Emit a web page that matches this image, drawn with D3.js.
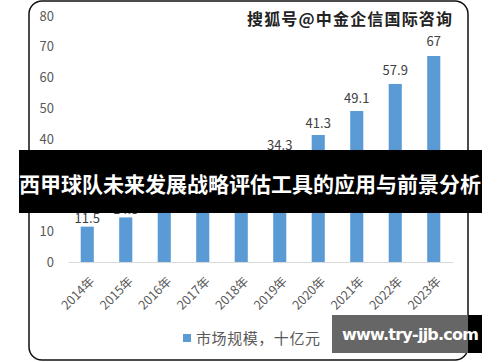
<!DOCTYPE html>
<html><head><meta charset="utf-8">
<script src="https://cdn.jsdelivr.net/npm/d3@7"></script>
<style>body{margin:0;background:#fff}svg{display:block}</style>
</head><body>
<svg id="c" width="500" height="362"></svg>
<script>
const years = ["2014年","2015年","2016年","2017年","2018年","2019年","2020年","2021年","2022年","2023年"];
const values = [11.5,14.5,18.1,22.6,28,34.3,41.3,49.1,57.9,67];
const valueLabels = ["11.5","14.5","18.1","22.6","28","34.3","41.3","49.1","57.9","67"];
const yTicks = [0,10,20,30,40,50,60,70,80];
const legendLabel = "市场规模，十亿元";
const watermark = "搜狐号@中金企信国际咨询";
const banner = "西甲球队未来发展战略评估工具的应用与前景分析";
const site = "www.try-jjb.com";

const svg = d3.select("#c");
const font = "'Microsoft YaHei','Noto Sans CJK SC','DejaVu Sans',sans-serif";

// card border
svg.append("rect").attr("x",29).attr("y",1).attr("width",439).attr("height",359)
  .attr("rx",13).attr("fill","#fff").attr("stroke","#111").attr("stroke-width",1.5);

const x = d3.scaleBand().domain(years).range([68,453]).paddingInner(0.66).paddingOuter(0.33);
const y = d3.scaleLinear().domain([0,80]).range([262,16]);

// y axis labels
const ya = svg.append("g").attr("transform","translate(54,0)")
  .call(d3.axisLeft(y).tickValues(yTicks).tickSize(0).tickPadding(0));
ya.select(".domain").remove();
ya.selectAll("text").attr("fill","#595959").style("font-size","13px").style("font-family",font);

// x axis
const xa = svg.append("g").attr("transform","translate(0,262)")
  .call(d3.axisBottom(x).tickSize(0).tickPadding(0));
xa.select(".domain").attr("stroke","#d9d9d9").attr("stroke-width",1);
xa.selectAll("text").attr("fill","#595959").style("font-size","12.5px").style("font-family",font)
  .attr("text-anchor","end").attr("dy","0.35em")
  .attr("transform","translate(5,17) rotate(-45)");

// bars
svg.append("g").selectAll("rect").data(values).join("rect")
  .attr("x",(d,i)=>x(years[i])).attr("width",x.bandwidth())
  .attr("y",d=>y(d)).attr("height",d=>y(0)-y(d)).attr("fill","#5B9BD5");

// value labels
svg.append("g").selectAll("text").data(values).join("text")
  .attr("x",(d,i)=>x(years[i])+x.bandwidth()/2).attr("y",d=>y(d)-(2+d*0.12))
  .attr("text-anchor","middle").attr("fill","#404040")
  .style("font-size","13px").style("font-family",font)
  .text((d,i)=>valueLabels[i]);

// legend
svg.append("rect").attr("x",183).attr("y",334).attr("width",8).attr("height",8).attr("fill","#5B9BD5");
svg.append("text").attr("x",196).attr("y",344).attr("fill","#595959")
  .style("font-size","15px").style("font-family",font)
  .attr("textLength",124).text(legendLabel);

// watermark
svg.append("text").attr("x",452).attr("y",25).attr("text-anchor","end").attr("fill","#222")
  .style("font-size","16px").style("font-weight","bold").style("font-family",font)
  .attr("textLength",205).text(watermark);

// banner
svg.append("rect").attr("x",19).attr("y",150).attr("width",463).attr("height",63).attr("fill","#000");
svg.append("rect").attr("x",29).attr("y",150).attr("width",439).attr("height",63).attr("fill","rgba(0,0,0,0.6)");
svg.append("text").attr("x",250).attr("y",192).attr("text-anchor","middle").attr("fill","#fff")
  .style("font-size","21px").style("font-weight","bold").style("font-family",font)
  .attr("textLength",462).text(banner);

// site box
svg.append("rect").attr("x",332).attr("y",315).attr("width",150).attr("height",38).attr("fill","#000");
svg.append("rect").attr("x",332).attr("y",315).attr("width",136).attr("height",38).attr("fill","#666");
svg.append("text").attr("x",342).attr("y",340).attr("fill","#fff")
  .style("font-size","16px").style("font-weight","bold").style("font-family","'DejaVu Sans',sans-serif")
  .attr("textLength",137).text(site);
</script>
</body></html>
